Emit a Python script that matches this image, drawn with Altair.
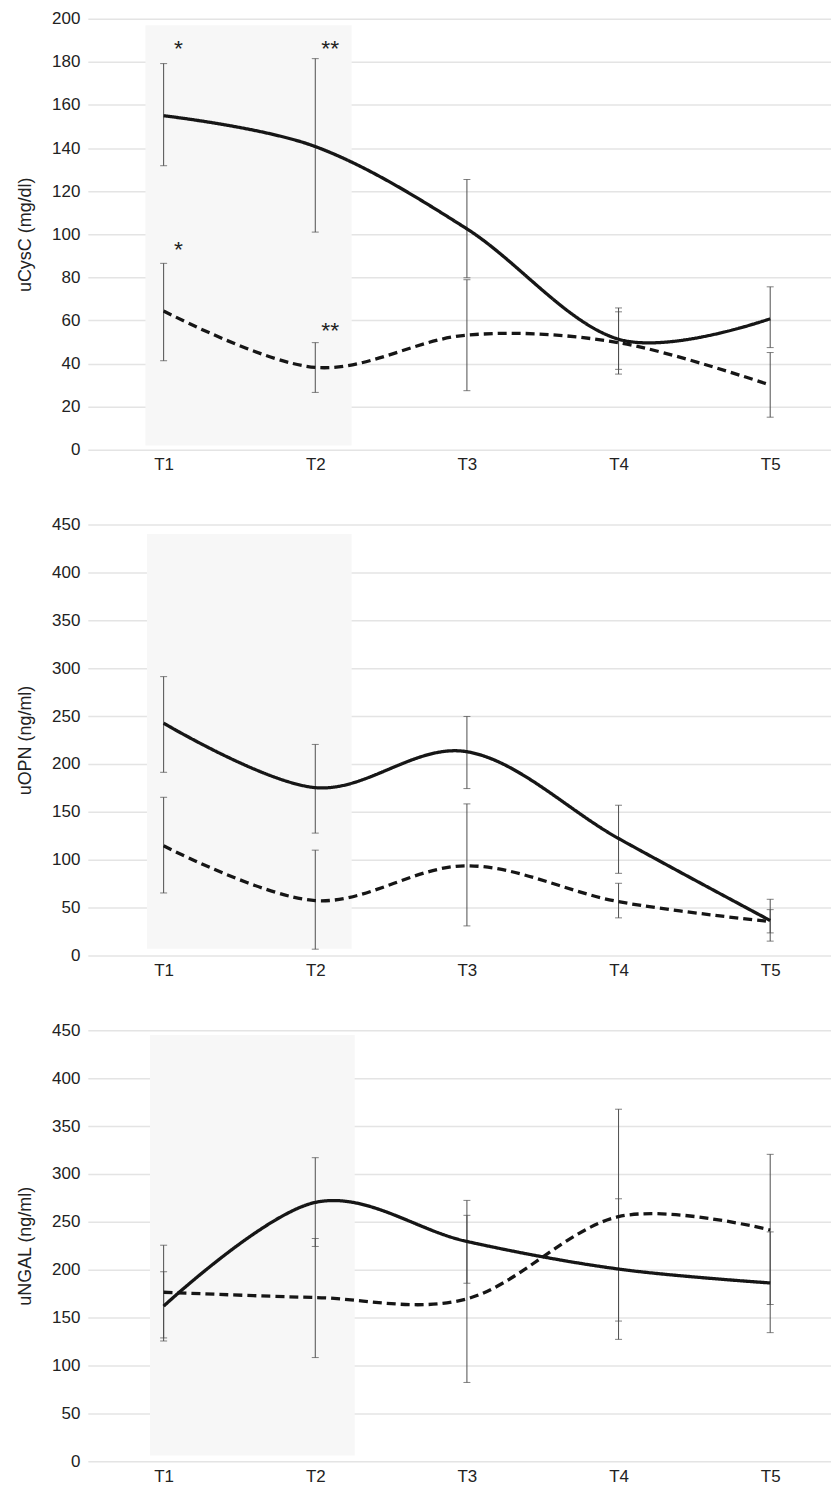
import altair as alt
import pandas as pd

time_labels = ["T1", "T2", "T3", "T4", "T5"]
time_pos = [1, 2, 3, 4, 5]
groups = ["solid", "dashed"]

# Panel 1: uCysC (mg/dl)
cysc_solid = [155.0, 140.7, 102.5, 51.3, 60.8]
cysc_solid_lo = [131.8, 101.0, 79.8, 37.3, 47.4]
cysc_solid_hi = [179.2, 181.5, 125.4, 65.8, 75.6]
cysc_dash = [64.4, 38.2, 53.2, 49.7, 30.0]
cysc_dash_lo = [41.3, 26.6, 27.4, 35.1, 15.1]
cysc_dash_hi = [86.5, 49.7, 78.9, 64.0, 45.1]

# Panel 2: uOPN (ng/ml)
opn_solid = [242.6, 175.3, 212.8, 122.2, 36.5]
opn_solid_lo = [191.3, 127.8, 174.3, 85.8, 15.0]
opn_solid_hi = [291.2, 220.4, 249.6, 156.9, 58.7]
opn_dash = [114.5, 57.3, 93.7, 56.2, 35.4]
opn_dash_lo = [65.3, 6.6, 30.9, 39.3, 23.6]
opn_dash_hi = [165.2, 110.0, 158.3, 75.4, 47.9]

# Panel 3: uNGAL (ng/ml)
ngal_solid = [162.0, 270.3, 229.5, 200.7, 186.2]
ngal_solid_lo = [125.6, 224.3, 185.9, 127.3, 134.3]
ngal_solid_hi = [197.9, 317.0, 272.4, 274.1, 239.5]
ngal_dash = [176.5, 171.0, 169.6, 255.4, 241.5]
ngal_dash_lo = [128.8, 108.3, 82.3, 146.4, 163.7]
ngal_dash_hi = [225.6, 232.6, 256.8, 367.6, 320.5]

# Shaded period (x from/to, y from/to) per panel
shade_cysc = [0.88, 2.24, 2, 197]
shade_opn = [0.89, 2.24, 7, 440]
shade_ngal = [0.91, 2.26, 6, 445]

# Significance markers (panel 1)
ast_text = ["*", "**", "*", "**"]
ast_pos = [1, 2, 1, 2]
ast_val = [182.5, 182.5, 89.5, 51.8]

FONT = "Liberation Sans"
W = 745
H = 432
X_DOMAIN = [0.5, 5.401]


def make_df(s, s_lo, s_hi, d, d_lo, d_hi):
    rows = []
    for i, p in enumerate(time_pos):
        rows.append({"pos": p, "label": time_labels[i], "group": "solid",
                     "mean": s[i], "lo": s_lo[i], "hi": s_hi[i]})
        rows.append({"pos": p, "label": time_labels[i], "group": "dashed",
                     "mean": d[i], "lo": d_lo[i], "hi": d_hi[i]})
    return pd.DataFrame(rows)


def x_axis():
    return alt.Axis(values=time_pos, labelExpr="'T' + datum.value",
                    grid=False, domain=False, ticks=False,
                    labelPadding=7, title=None)


def panel(df, ymax, ystep, ytitle, shade, ast=None):
    x_scale = alt.Scale(domain=X_DOMAIN, nice=False, zero=False)
    x_enc = alt.X("pos:Q", scale=x_scale, axis=x_axis())
    y_axis = alt.Axis(values=list(range(0, ymax + 1, ystep)), grid=True,
                      domain=False, ticks=False, labelPadding=8,
                      title=ytitle, titleX=-53, titleY=H / 2,
                      titleBaseline="bottom")
    y_scale = alt.Scale(domain=[0, ymax], nice=False)

    shade_df = pd.DataFrame([{"x0": shade[0], "x1": shade[1], "y0": shade[2], "y1": shade[3]}])
    bg = alt.Chart(shade_df).mark_rect(color="#f7f7f7").encode(
        x=alt.X("x0:Q", scale=x_scale, axis=x_axis()),
        x2="x1:Q",
        y=alt.Y("y0:Q", scale=y_scale, axis=y_axis),
        y2="y1:Q",
    )

    base = alt.Chart(df)
    err = base.mark_rule(color="#4d4d4d", strokeWidth=1).encode(
        x=x_enc, y=alt.Y("lo:Q", scale=y_scale, axis=y_axis), y2="hi:Q")
    cap_lo = base.mark_tick(orient="horizontal", size=7, thickness=1, color="#4d4d4d").encode(
        x=x_enc, y=alt.Y("lo:Q", scale=y_scale, axis=y_axis))
    cap_hi = base.mark_tick(orient="horizontal", size=7, thickness=1, color="#4d4d4d").encode(
        x=x_enc, y=alt.Y("hi:Q", scale=y_scale, axis=y_axis))
    line = base.mark_line(interpolate="cardinal", strokeWidth=3.3, color="#161616").encode(
        x=x_enc, y=alt.Y("mean:Q", scale=y_scale, axis=y_axis),
        strokeDash=alt.StrokeDash("group:N",
                                  scale=alt.Scale(domain=groups, range=[[1, 0], [9, 5]]),
                                  legend=None),
        detail="group:N")
    layers = [bg, err, cap_lo, cap_hi, line]
    if ast is not None:
        txt = alt.Chart(ast).mark_text(fontSize=23, font=FONT, color="#222222",
                                       baseline="alphabetic", align="center", dx=15).encode(
            x=x_enc, y=alt.Y("v:Q", scale=y_scale, axis=y_axis), text="t:N")
        layers.append(txt)
    return alt.layer(*layers).properties(width=W, height=H)


ast_df = pd.DataFrame({"t": ast_text, "pos": ast_pos, "v": ast_val})

p1 = panel(make_df(cysc_solid, cysc_solid_lo, cysc_solid_hi, cysc_dash, cysc_dash_lo, cysc_dash_hi),
           200, 20, "uCysC (mg/dl)", shade_cysc, ast_df)
p2 = panel(make_df(opn_solid, opn_solid_lo, opn_solid_hi, opn_dash, opn_dash_lo, opn_dash_hi),
           450, 50, "uOPN (ng/ml)", shade_opn)
p3 = panel(make_df(ngal_solid, ngal_solid_lo, ngal_solid_hi, ngal_dash, ngal_dash_lo, ngal_dash_hi),
           450, 50, "uNGAL (ng/ml)", shade_ngal)

chart = alt.vconcat(p1, p2, p3, spacing=75, bounds="flush").properties(
    padding={"left": 9, "top": 0, "right": 0, "bottom": 0}
).configure_view(stroke=None).configure_axis(
    labelFont=FONT, titleFont=FONT, labelFontSize=17, titleFontSize=18,
    titleFontWeight="normal", labelColor="#222222", titleColor="#222222",
    gridColor="#e4e4e4", gridWidth=1.5
)

chart.save("out.html", embed_options={"renderer": "svg", "actions": False})
